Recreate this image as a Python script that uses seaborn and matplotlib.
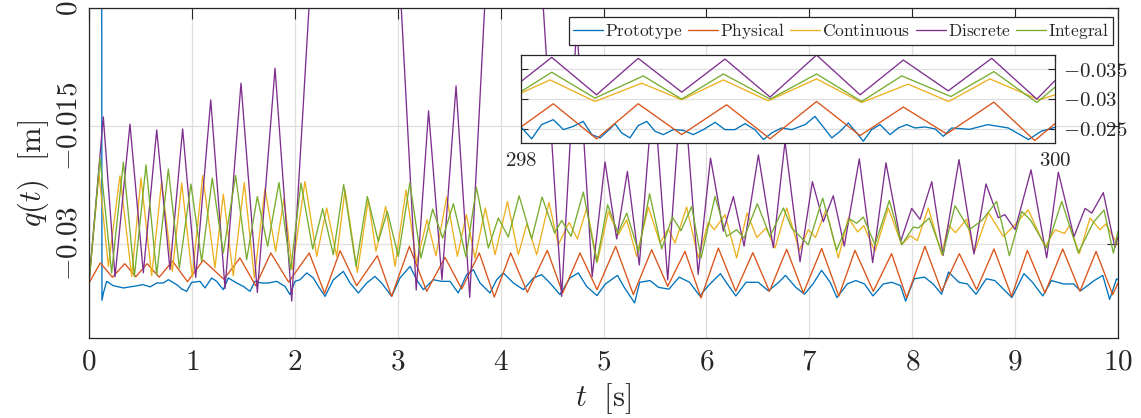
import numpy as np
import matplotlib
matplotlib.use("Agg")
import matplotlib.pyplot as plt
import seaborn as sns

# ---------------- data (time in s, displacement in mm) ----------------
# Prototype
t_proto = [0.000, 0.003, 0.120, 0.126, 0.140, 0.172, 0.236, 0.334, 0.431, 0.528, 0.593, 0.658,
           0.722, 0.771, 0.852, 0.901, 0.949, 0.998, 1.079, 1.127, 1.192, 1.241, 1.305, 1.354,
           1.435, 1.500, 1.565, 1.613, 1.678, 1.743, 1.824, 1.905, 1.953, 2.002, 2.051, 2.116,
           2.180, 2.229, 2.294, 2.375, 2.472, 2.537, 2.618, 2.699, 2.779, 2.844, 2.941, 3.022,
           3.120, 3.184, 3.249, 3.346, 3.427, 3.508, 3.589, 3.670, 3.735, 3.800, 3.897, 3.962,
           4.027, 4.124, 4.222, 4.319, 4.399, 4.480, 4.577, 4.674, 4.755, 4.836, 4.936, 5.019,
           5.136, 5.202, 5.302, 5.352, 5.452, 5.536, 5.636, 5.736, 5.836, 5.936, 6.019, 6.136,
           6.203, 6.286, 6.386, 6.503, 6.603, 6.703, 6.769, 6.869, 6.953, 7.036, 7.119, 7.203,
           7.269, 7.369, 7.453, 7.536, 7.619, 7.719, 7.803, 7.886, 7.936, 8.019, 8.119, 8.203,
           8.286, 8.353, 8.453, 8.536, 8.620, 8.720, 8.803, 8.903, 8.969, 9.086, 9.169, 9.269,
           9.353, 9.469, 9.569, 9.636, 9.769, 9.852, 9.919, 9.986, 10.000]
proto_mm = [-35.00, 60.00, 60.00, -37.20, -36.27, -34.79, -35.34, -35.63, -35.43, -35.21, -35.50, -35.00,
            -35.00, -34.58, -35.21, -35.76, -36.06, -34.92, -34.79, -35.63, -34.36, -34.79, -35.85, -34.36,
            -35.00, -35.43, -36.06, -34.79, -35.00, -35.00, -34.79, -35.43, -36.48, -34.79, -34.58, -33.72,
            -34.36, -35.43, -36.70, -34.58, -33.52, -35.00, -36.27, -35.00, -34.16, -35.00, -36.70, -34.36,
            -32.89, -34.58, -35.85, -34.58, -34.79, -34.79, -36.27, -33.94, -33.31, -35.00, -36.27, -34.58,
            -33.72, -35.00, -35.85, -34.36, -33.94, -35.00, -36.48, -34.36, -33.72, -35.43, -36.60, -35.12,
            -34.03, -35.56, -37.53, -34.91, -34.69, -35.56, -35.78, -34.25, -34.91, -36.65, -35.34, -33.81,
            -35.12, -36.65, -34.91, -34.91, -36.00, -34.91, -34.03, -35.56, -36.43, -35.12, -33.38, -34.91,
            -36.86, -35.12, -34.69, -35.12, -36.65, -35.12, -34.91, -35.34, -37.31, -34.47, -34.25, -35.12,
            -36.43, -33.60, -34.91, -35.12, -36.43, -34.47, -34.69, -36.00, -36.86, -33.81, -34.91, -36.65,
            -34.69, -35.12, -35.12, -36.00, -34.69, -34.03, -37.08, -34.47, -34.60]

# Physical
t_phys = [0.000, 0.110, 0.228, 0.347, 0.455, 0.565, 0.682, 0.812, 0.957, 1.110, 1.310, 1.467,
          1.620, 1.767, 1.940, 2.140, 2.290, 2.440, 2.601, 2.802, 2.941, 3.113, 3.282, 3.460,
          3.622, 3.793, 3.939, 4.098, 4.260, 4.454, 4.603, 4.772, 4.937, 5.118, 5.290, 5.468,
          5.624, 5.792, 5.948, 6.116, 6.285, 6.451, 6.613, 6.780, 6.942, 7.120, 7.287, 7.444,
          7.622, 7.800, 7.946, 8.124, 8.286, 8.458, 8.626, 8.795, 8.966, 9.119, 9.290, 9.463,
          9.630, 9.787, 9.948, 10.000]
phys_mm = [-35.00, -32.45, -34.26, -32.54, -34.20, -32.54, -34.26, -32.22, -34.83, -32.10, -34.51, -31.82,
           -35.34, -31.18, -34.89, -31.18, -36.31, -30.89, -35.34, -31.53, -36.70, -30.34, -36.06, -31.74,
           -35.76, -31.18, -36.78, -31.18, -36.19, -30.85, -36.27, -31.18, -35.85, -30.34, -36.48, -30.76,
           -35.43, -30.98, -36.90, -30.55, -36.06, -31.14, -36.06, -30.71, -36.27, -30.61, -36.66, -30.85,
           -36.06, -31.27, -36.90, -30.34, -36.06, -31.27, -35.85, -30.67, -36.70, -30.85, -36.27, -30.67,
           -36.06, -30.98, -36.48, -35.00]

# Continuous
t_cont = [0.000, 0.097, 0.188, 0.301, 0.415, 0.505, 0.609, 0.706, 0.810, 0.901, 1.004, 1.105,
          1.224, 1.305, 1.402, 1.509, 1.607, 1.710, 1.814, 1.895, 1.976, 2.099, 2.213, 2.310,
          2.407, 2.488, 2.608, 2.714, 2.789, 2.883, 2.974, 3.081, 3.184, 3.285, 3.372, 3.476,
          3.580, 3.667, 3.751, 3.852, 3.946, 4.067, 4.172, 4.256, 4.351, 4.470, 4.561, 4.666,
          4.746, 4.837, 4.940, 5.047, 5.144, 5.225, 5.322, 5.436, 5.549, 5.630, 5.695, 5.808,
          5.921, 6.019, 6.077, 6.181, 6.294, 6.395, 6.490, 6.580, 6.667, 6.780, 6.903, 6.990,
          7.060, 7.162, 7.282, 7.379, 7.470, 7.530, 7.638, 7.768, 7.898, 7.979, 8.050, 8.157,
          8.287, 8.351, 8.420, 8.529, 8.601, 8.740, 8.885, 8.990, 9.128, 9.291, 9.388, 9.480,
          9.530, 9.624, 9.728, 9.825, 9.880, 10.000]
cont_mm = [-35.00, -21.01, -32.89, -21.36, -34.16, -21.65, -34.07, -22.08, -33.52, -22.28, -34.23, -21.32,
           -33.09, -23.68, -34.07, -22.21, -34.36, -23.01, -30.98, -24.28, -33.31, -22.08, -31.61, -25.46,
           -31.61, -23.14, -33.65, -24.41, -30.98, -25.26, -32.89, -23.14, -32.45, -26.95, -31.53, -24.06,
           -31.61, -26.31, -31.82, -25.46, -31.40, -24.62, -31.40, -27.46, -31.40, -24.75, -30.13, -27.29,
           -29.40, -25.46, -32.35, -25.89, -28.86, -26.95, -31.61, -25.33, -29.91, -28.13, -29.91, -25.33,
           -31.82, -27.29, -28.22, -26.31, -31.82, -26.10, -29.20, -28.00, -30.55, -25.46, -30.85, -28.22,
           -29.20, -25.68, -31.82, -26.73, -28.50, -27.70, -30.98, -25.46, -30.13, -28.98, -29.60, -25.46,
           -31.40, -27.58, -28.60, -26.86, -31.18, -26.02, -29.07, -27.70, -25.68, -30.42, -28.22, -28.70,
           -27.70, -31.27, -26.73, -28.22, -27.50, -30.13]

# Discrete (two excursions leave the axes through the top)
t_disc = [0.000, 0.139, 0.253, 0.398, 0.528, 0.658, 0.787, 0.910, 1.037, 1.183, 1.322, 1.477,
          1.636, 1.808, 1.970, 2.610, 3.180, 3.300, 3.430, 3.567, 3.700, 4.100, 4.593, 4.740,
          4.890, 5.015, 5.128, 5.232, 5.348, 5.486, 5.624, 5.768, 5.920, 6.040, 6.165, 6.262,
          6.366, 6.505, 6.650, 6.764, 6.910, 7.030, 7.136, 7.233, 7.340, 7.486, 7.616, 7.745,
          7.888, 7.995, 8.076, 8.190, 8.300, 8.455, 8.600, 8.717, 8.837, 8.900, 9.000, 9.155,
          9.307, 9.420, 9.572, 9.680, 9.745, 9.857, 9.970, 10.000]
disc_mm = [-35.00, -13.86, -34.20, -14.78, -33.70, -15.51, -33.30, -15.40, -34.30, -11.70, -35.70, -9.57,
           -36.20, -7.67, -37.30, 105.00, -35.90, -13.09, -34.58, -9.92, -36.83, 65.00, -36.70, -2.00,
           -34.20, -19.60, -29.40, -20.80, -32.70, -10.00, -34.60, -8.00, -33.90, -19.10, -28.40, -24.00,
           -30.30, -18.70, -30.50, -17.00, -32.30, -22.10, -27.20, -23.90, -30.30, -19.20, -32.40, -19.70,
           -29.70, -25.50, -26.90, -22.10, -31.50, -19.30, -31.30, -22.40, -26.70, -26.30, -28.20, -20.60,
           -31.80, -20.90, -29.10, -25.50, -26.10, -23.50, -30.50, -29.10]

# Integral
t_int = [0.000, 0.107, 0.220, 0.334, 0.441, 0.554, 0.658, 0.771, 0.878, 0.991, 1.095, 1.198,
         1.305, 1.425, 1.532, 1.636, 1.736, 1.846, 1.960, 2.060, 2.174, 2.271, 2.374, 2.475,
         2.595, 2.705, 2.812, 2.899, 3.006, 3.118, 3.226, 3.340, 3.437, 3.541, 3.664, 3.765,
         3.881, 3.978, 4.075, 4.180, 4.302, 4.403, 4.525, 4.594, 4.684, 4.804, 4.934, 5.040,
         5.140, 5.226, 5.340, 5.448, 5.565, 5.669, 5.753, 5.857, 5.948, 6.084, 6.197, 6.294,
         6.365, 6.495, 6.618, 6.748, 6.829, 6.990, 7.130, 7.266, 7.390, 7.460, 7.525, 7.638,
         7.778, 7.898, 8.011, 8.060, 8.166, 8.296, 8.416, 8.555, 8.680, 8.821, 8.944, 9.064,
         9.150, 9.307, 9.453, 9.614, 9.760, 9.864, 9.955, 10.000]
int_mm = [-35.00, -19.11, -33.72, -19.61, -34.16, -19.96, -33.94, -20.50, -33.09, -22.41, -32.25, -21.65,
          -31.18, -21.32, -32.03, -23.99, -30.34, -22.21, -33.31, -22.28, -30.67, -25.55, -31.40, -22.46,
          -32.89, -23.99, -29.71, -25.89, -31.61, -22.25, -31.82, -25.59, -29.28, -24.92, -31.69, -22.84,
          -30.55, -26.73, -29.15, -23.90, -29.40, -24.06, -28.64, -27.04, -29.07, -23.43, -32.35, -25.04,
          -28.64, -26.10, -31.02, -23.64, -30.67, -26.61, -28.35, -25.26, -31.82, -23.99, -29.07, -28.22,
          -29.28, -24.92, -29.07, -25.46, -28.00, -30.13, -24.19, -30.85, -26.82, -27.40, -26.61, -30.13,
          -24.50, -30.13, -27.88, -28.00, -26.73, -31.40, -25.17, -28.22, -27.00, -24.62, -31.53, -25.89,
          -27.00, -30.55, -24.62, -31.16, -27.30, -25.70, -31.20, -28.40]

# Zoomed window 298 s .. 300 s
zt_proto = [298.000, 298.040, 298.077, 298.121, 298.159, 298.196, 298.233, 298.265, 298.296, 298.333,
            298.352, 298.377, 298.408, 298.439, 298.471, 298.502, 298.533, 298.571, 298.608, 298.645,
            298.683, 298.727, 298.764, 298.801, 298.839, 298.876, 298.908, 298.939, 298.976, 299.014,
            299.064, 299.101, 299.132, 299.164, 299.195, 299.226, 299.257, 299.282, 299.313, 299.345,
            299.382, 299.413, 299.444, 299.476, 299.513, 299.551, 299.582, 299.613, 299.680, 299.748,
            299.825, 299.901, 299.948, 300.000]
z_proto_mm = [-25.30, -23.30, -25.69, -26.52, -24.85, -25.40, -26.24, -24.01, -23.46, -24.97,
              -25.85, -24.30, -23.46, -25.52, -26.24, -24.57, -24.01, -24.85, -24.73, -24.01,
              -24.85, -26.07, -24.85, -24.85, -25.85, -24.85, -23.18, -24.30, -25.13, -24.85,
              -25.69, -27.07, -25.30, -23.46, -24.57, -25.97, -24.30, -22.90, -24.85, -25.69,
              -24.01, -25.13, -25.69, -25.13, -25.30, -24.97, -23.73, -25.13, -24.90, -25.69,
              -25.13, -23.18, -24.57, -25.24]
zt_phys = [298.000, 298.121, 298.283, 298.439, 298.602, 298.770, 298.933, 299.107, 299.270, 299.432,
           299.594, 299.771, 299.924, 300.000]
z_phys_mm = [-25.30, -29.20, -23.30, -29.20, -24.01, -29.03, -23.30, -29.58, -23.85, -28.65,
             -24.13, -29.48, -23.01, -25.85]
zt_cont = [298.000, 298.109, 298.277, 298.452, 298.602, 298.758, 298.926, 299.107, 299.276, 299.450,
           299.602, 299.756, 299.940, 300.000]
z_cont_mm = [-31.00, -33.21, -29.58, -32.66, -29.87, -33.21, -29.70, -33.38, -29.41, -32.49,
             -29.58, -33.38, -29.87, -30.70]
zt_disc = [298.000, 298.115, 298.283, 298.439, 298.602, 298.764, 298.933, 299.107, 299.270, 299.432,
           299.600, 299.763, 299.932, 300.000]
z_disc_mm = [-32.93, -37.00, -30.70, -36.84, -31.15, -36.72, -30.32, -37.39, -30.70, -36.55,
             -31.37, -36.84, -29.98, -33.09]
zt_int = [298.000, 298.115, 298.277, 298.458, 298.602, 298.758, 298.933, 299.107, 299.276, 299.426,
          299.610, 299.771, 299.932, 300.000]
z_int_mm = [-31.25, -34.50, -30.15, -33.88, -29.98, -34.21, -29.98, -34.21, -29.58, -33.88,
            -30.42, -34.60, -29.41, -31.99]

names = ["Prototype", "Physical", "Continuous", "Discrete", "Integral"]
colors = ["#0072BD", "#D95319", "#EDB120", "#7E2F8E", "#77AC30"]

main_series = [(t_proto, proto_mm), (t_phys, phys_mm), (t_cont, cont_mm),
               (t_disc, disc_mm), (t_int, int_mm)]
zoom_series = [(zt_proto, z_proto_mm), (zt_phys, z_phys_mm), (zt_cont, z_cont_mm),
               (zt_disc, z_disc_mm), (zt_int, z_int_mm)]

main_yticks = [-0.03, -0.015, 0.0]
main_ylabels = [r"$-0.03$", r"$-0.015$", r"$0$"]
zoom_yticks = [-0.035, -0.03, -0.025]
zoom_ylabels = [r"$-0.035$", r"$-0.03$", r"$-0.025$"]

# ---------------- styling ----------------
sns.set_theme(style="white")
plt.rcParams["mathtext.fontset"] = "cm"
plt.rcParams["font.family"] = ["DejaVu Serif", "DejaVu Sans"]
plt.rcParams["lines.solid_joinstyle"] = "round"

W, H = 1141, 418
fig = plt.figure(figsize=(W / 100, H / 100), dpi=100)
fig.patch.set_facecolor("white")

spine_col = "#262626"
grid_col = "#dfdfdf"
lw = 0.95

ax = fig.add_axes([89 / W, 1 - 338 / H, 1029 / W, 330 / H])
for (t, v), name, c in zip(main_series, names, colors):
    sns.lineplot(x=np.asarray(t), y=np.asarray(v) / 1000.0, ax=ax, color=c,
                 linewidth=lw, label=r"$\mathrm{%s}$" % name, estimator=None)

ax.set_xlim(0, 10)
ax.set_ylim(-0.042, 0.0)
ax.set_xticks(range(0, 11))
ax.set_xticklabels([r"$%d$" % i for i in range(0, 11)])
ax.set_yticks(main_yticks)
ax.set_yticklabels(main_ylabels, rotation=90, va="center")
ax.tick_params(axis="both", direction="in", length=8, width=0.8, color=spine_col,
               labelsize=21, top=True, right=True)
ax.tick_params(axis="x", pad=7)
ax.tick_params(axis="y", pad=4.5)
ax.grid(True, color=grid_col, linewidth=0.9)
for s in ax.spines.values():
    s.set_color(spine_col)
    s.set_linewidth(0.9)
ax.set_xlabel(r"$t\ \ [\mathrm{s}]$", fontsize=22, labelpad=4)
ax.set_ylabel(r"$q(t)\ \ [\mathrm{m}]$", fontsize=22, labelpad=3)

leg = ax.legend(loc="upper right", bbox_to_anchor=(0.9951, 0.9727), ncol=5,
                fontsize=12.5, frameon=True, fancybox=False, framealpha=1,
                edgecolor=spine_col, borderaxespad=0, borderpad=0.22,
                handlelength=1.75, handletextpad=0.1, columnspacing=0.3)
leg.get_frame().set_linewidth(0.9)

# zoomed window
axz = fig.add_axes([521 / W, 1 - 143 / H, 534 / W, 88 / H])
axz.set_facecolor("white")
for (t, v), c in zip(zoom_series, colors):
    sns.lineplot(x=np.asarray(t), y=np.asarray(v) / 1000.0, ax=axz, color=c,
                 linewidth=lw, estimator=None)
axz.set_xlim(298, 300)
axz.set_ylim(-0.0226, -0.0374)
axz.set_xticks([298, 300])
axz.set_xticklabels([r"$298$", r"$300$"])
axz.set_yticks(zoom_yticks)
axz.set_yticklabels(zoom_ylabels)
axz.yaxis.tick_right()
axz.tick_params(axis="both", direction="in", length=5, width=0.8, color=spine_col,
                labelsize=15, left=True, right=True, top=True, pad=6)
axz.grid(True, color=grid_col, linewidth=0.9)
for s in axz.spines.values():
    s.set_color(spine_col)
    s.set_linewidth(0.9)
axz.set_xlabel("")
axz.set_ylabel("")

fig.savefig("out.png", dpi=100, facecolor="white")
